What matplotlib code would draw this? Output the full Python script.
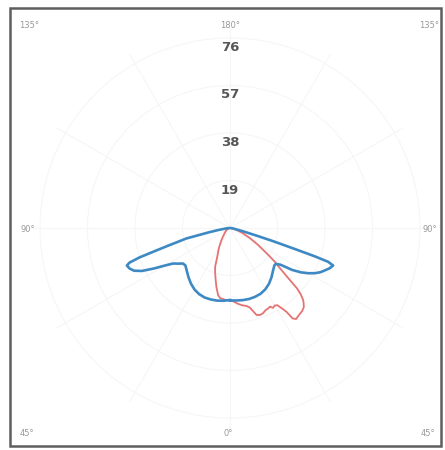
import numpy as np
import matplotlib.pyplot as plt
from matplotlib.patches import Rectangle, Circle

# intensity (cd/klm) per gamma angle, 0 deg = straight down
blue_left_gamma = [0, 5, 10, 15, 20, 25, 30, 35, 40, 45, 50, 53, 56, 58, 60, 62, 64, 66,
                   68, 70, 71, 72, 73, 74, 75, 76.5, 78.5, 80, 84, 90]
blue_left_cd = [28.8, 29.2, 29.5, 29.6, 29.6, 29.2, 28.4, 27.2, 25.8, 24.4, 23.3, 23.6, 25.5,
                26.8, 30.0, 34.5, 39.2, 42.0, 43.3, 43.9, 42.5, 38.0, 31.0, 26.0, 22.0, 18.0,
                8.5, 5.0, 1.5, 0.0]

blue_right_gamma = [0, 5, 10, 15, 20, 25, 30, 35, 40, 45, 50, 52, 54, 56, 58, 60, 62, 64,
                    66, 68, 70, 71, 71.5, 72, 73, 74, 76, 80, 85, 90]
blue_right_cd = [29.0, 29.1, 29.3, 29.4, 29.3, 29.0, 28.3, 27.2, 25.8, 24.3, 23.2, 23.3, 25.0,
                 30.0, 33.5, 36.2, 38.5, 40.3, 41.6, 43.0, 43.9, 41.5, 36.0, 28.0, 18.0, 11.0,
                 5.0, 1.5, 0.4, 0.0]

red_left_gamma = [0, 4, 8, 10, 13, 16, 19, 21, 24, 27, 30, 35, 40, 50, 60, 70, 80, 90]
red_left_cd = [28.9, 28.8, 28.3, 27.3, 24.2, 21.0, 18.3, 16.6, 12.5, 10.3, 8.5, 6.0, 4.3,
               2.5, 1.5, 0.8, 0.3, 0.0]

red_right_gamma = [0, 3, 6, 9, 12, 14, 15.5, 17, 19, 21, 23.5, 25.5, 27, 28.3, 30, 31.5, 33,
                   34, 34.7, 36, 38, 41, 43, 44.5, 45.5, 47, 48, 49.5, 51, 53, 55, 59, 63,
                   68, 75, 82, 90]
red_right_cd = [28.8, 29.5, 30.5, 31.3, 31.9, 32.8, 34.5, 36.4, 36.8, 36.6, 35.8, 35.6, 35.3,
                36.3, 35.8, 36.2, 38.5, 40.5, 44.0, 45.0, 44.5, 44.0, 43.3, 42.0, 41.0, 38.5,
                36.0, 30.0, 26.0, 22.5, 18.5, 13.0, 9.0, 5.5, 2.5, 1.0, 0.0]

rings = [19, 38, 57, 76]
angle_labels = ["135°", "180°", "135°", "90°", "90°", "45°", "0°", "45°"]


def loop(left_g, left_r, right_g, right_r):
    lg = np.radians(left_g)
    rg = np.radians(right_g)[::-1]
    lr = np.asarray(left_r)
    rr = np.asarray(right_r)[::-1]
    x = np.concatenate([-lr * np.sin(lg), rr * np.sin(rg)])
    y = np.concatenate([-lr * np.cos(lg), -rr * np.cos(rg)])
    return x, y


fig = plt.figure(figsize=(4.45, 4.5), dpi=100)
ax = fig.add_axes([0, 0, 1, 1])
ax.set_xlim(-92, 86)
ax.set_ylim(-88.8, 91.2)
ax.axis("off")

# very faint grid
for r in rings:
    ax.add_patch(Circle((0, 0), r, fill=False, ec="#f6f6f6", lw=0.8, zorder=1))
for a in range(0, 180, 30):
    t = np.radians(a)
    ax.plot([-80 * np.sin(t), 80 * np.sin(t)], [-80 * np.cos(t), 80 * np.cos(t)],
            color="#f6f6f6", lw=0.8, zorder=1)

ax.add_patch(Rectangle((-88, -87.2), 172.4, 175.2, fill=False, ec="#5e5e5e", lw=1.8, zorder=5))

for r in rings:
    ax.text(0, r - 3.8, str(r), ha="center", va="center", fontsize=9.5,
            fontweight="bold", color="#555555", zorder=4)

label_pos = [(-80.4, 81.2), (0, 81.2), (79.6, 81.2), (-80.8, -0.4), (80, -0.8),
             (-81.2, -82.4), (-0.8, -82.4), (79.2, -82.4)]
for (x, y), s in zip(label_pos, angle_labels):
    ax.text(x, y, s, ha="center", va="center", fontsize=6, color="#999999")

xr, yr = loop(red_left_gamma, red_left_cd, red_right_gamma, red_right_cd)
ax.plot(xr, yr, color="#e57373", lw=1.3, zorder=3)
xb, yb = loop(blue_left_gamma, blue_left_cd, blue_right_gamma, blue_right_cd)
ax.plot(xb, yb, color="#3d89c4", lw=1.9, zorder=3.5)

plt.savefig("out.png", dpi=100)
plt.close()
